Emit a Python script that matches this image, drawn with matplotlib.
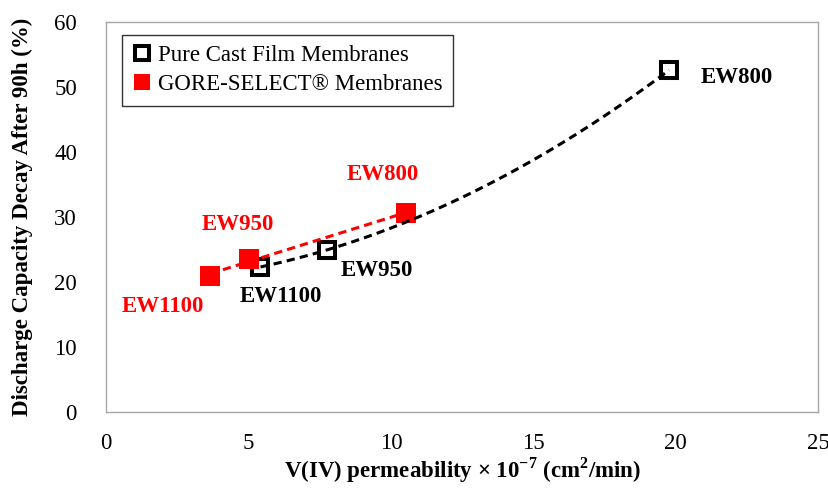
import numpy as np
import matplotlib.pyplot as plt

plt.rcParams['font.family'] = ['Liberation Serif', 'DejaVu Serif']
plt.rcParams['mathtext.fontset'] = 'custom'
plt.rcParams['mathtext.bf'] = 'Liberation Serif:bold'
plt.rcParams['mathtext.rm'] = 'Liberation Serif'

# V(IV) permeability (x 1e-7 cm2/min) vs capacity decay after 90 h (%)
cast_perm = [5.42, 7.74, 19.77]
cast_decay = [22.3, 24.9, 52.6]
cast_labels = ['EW1100', 'EW950', 'EW800']

gore_perm = [3.65, 5.03, 10.54]
gore_decay = [20.9, 23.6, 30.6]
gore_labels = ['EW1100', 'EW950', 'EW800']

FS = 16.5

fig = plt.figure(figsize=(8.29, 4.88), dpi=100)
ax = fig.add_axes([0.128, 0.156, 0.859, 0.799])

# markers
ax.plot(cast_perm, cast_decay, 's', ms=12.2, mfc='white', mec='black', mew=2.9,
        ls='none', label='Pure Cast Film Membranes', zorder=3)
ax.plot(gore_perm, gore_decay, 's', ms=14.4, mfc='red', mec='red', mew=0,
        ls='none', label='GORE-SELECT® Membranes', zorder=4)

# trendlines: quadratic for cast film, linear for GORE-SELECT
dash = (0, (2.7, 1.7))
p_cast = np.poly1d(np.polyfit(cast_perm, cast_decay, 2))
xx = np.linspace(min(cast_perm), max(cast_perm), 200)
ax.plot(xx, p_cast(xx), color='black', ls=dash, lw=2.2, zorder=5)

p_gore = np.poly1d(np.polyfit(gore_perm, gore_decay, 1))
xx = np.linspace(min(gore_perm), max(gore_perm), 200)
ax.plot(xx, p_gore(xx), color='red', ls=dash, lw=2.2, zorder=5)

# point labels
cast_off = [(-0.72, -4.6), (0.51, -3.1), (1.09, -1.2)]
gore_off = [(-3.09, -4.7), (-1.69, 5.2), (-2.11, 5.9)]
for x, y, t, (dx, dy) in zip(cast_perm, cast_decay, cast_labels, cast_off):
    ax.text(x + dx, y + dy, t, fontsize=FS, fontweight='bold', color='black',
            ha='left', va='center')
for x, y, t, (dx, dy) in zip(gore_perm, gore_decay, gore_labels, gore_off):
    ax.text(x + dx, y + dy, t, fontsize=FS, fontweight='bold', color='red',
            ha='left', va='center')

ax.set_xlim(0, 25)
ax.set_ylim(0, 60)
ax.set_xticks(range(0, 26, 5))
ax.set_yticks(range(0, 61, 10))
ax.tick_params(length=0, labelsize=FS)
ax.tick_params(axis='y', pad=21)
ax.tick_params(axis='x', pad=15)
for s in ax.spines.values():
    s.set_color('#a6a6a6')
    s.set_linewidth(1)

ax.set_xlabel(r'V(IV) permeability × 10$^{\mathbf{-7}}$ (cm$^{\mathbf{2}}$/min)',
              fontsize=FS, fontweight='bold', labelpad=1)
ax.set_ylabel('Discharge Capacity Decay After 90h (%)', fontsize=FS,
              fontweight='bold', labelpad=15)

leg = ax.legend(loc='upper left', bbox_to_anchor=(0.0225, 0.967), fontsize=FS,
                frameon=True, fancybox=False, edgecolor='black', markerscale=0.8,
                handlelength=0.8, handletextpad=0.3, borderpad=0.45,
                labelspacing=0.35, borderaxespad=0)
leg.get_frame().set_linewidth(1)

fig.savefig('out.png', dpi=100)
